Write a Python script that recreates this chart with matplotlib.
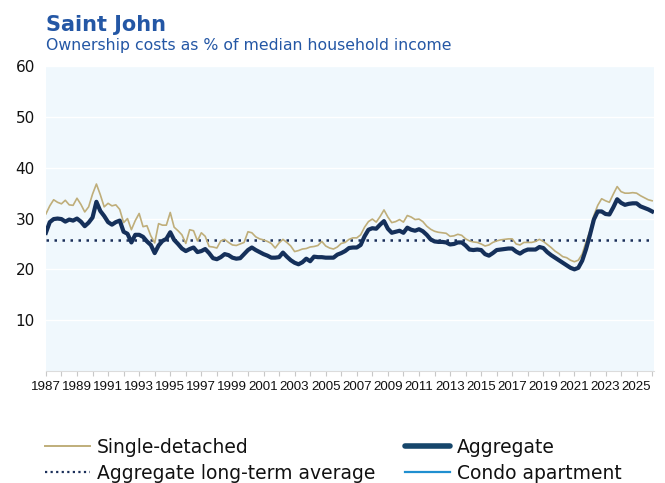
import matplotlib
matplotlib.use("Agg")
import matplotlib.pyplot as plt
from matplotlib.lines import Line2D
import numpy as np

# ---------------- data (quarterly, 1987Q1 .. 2026Q1) ----------------
start_year = 1987
aggregate = [
    27.2, 29.3, 29.9, 30.0,   # 1987
    29.9, 29.4, 29.8, 29.6,   # 1988
    30.0, 29.4, 28.5, 29.2,   # 1989
    30.2, 33.3, 31.5, 30.5,   # 1990
    29.3, 28.8, 29.3, 29.6,   # 1991
    27.4, 27.0, 25.3, 26.8,   # 1992
    26.8, 26.4, 25.5, 24.8,   # 1993
    23.2, 24.7, 25.6, 26.0,   # 1994
    27.3, 25.8, 25.0, 24.1,   # 1995
    23.6, 24.0, 24.3, 23.4,   # 1996
    23.6, 24.0, 23.2, 22.2,   # 1997
    22.0, 22.4, 23.0, 22.8,   # 1998
    22.3, 22.1, 22.2, 23.0,   # 1999
    23.8, 24.3, 23.8, 23.4,   # 2000
    23.0, 22.7, 22.3, 22.3,   # 2001
    22.4, 23.3, 22.5, 21.8,   # 2002
    21.3, 21.0, 21.4, 22.1,   # 2003
    21.6, 22.5, 22.4, 22.4,   # 2004
    22.3, 22.3, 22.3, 22.9,   # 2005
    23.2, 23.6, 24.2, 24.3,   # 2006
    24.3, 24.8, 26.5, 27.8,   # 2007
    28.1, 28.0, 28.8, 29.5,   # 2008
    28.0, 27.2, 27.4, 27.6,   # 2009
    27.2, 28.2, 27.8, 27.6,   # 2010
    27.9, 27.5, 26.8, 25.9,   # 2011
    25.5, 25.4, 25.4, 25.3,   # 2012
    24.9, 25.0, 25.3, 25.3,   # 2013
    24.7, 23.9, 23.8, 23.9,   # 2014
    23.8, 23.0, 22.7, 23.2,   # 2015
    23.8, 23.9, 24.0, 24.1,   # 2016
    24.1, 23.5, 23.1, 23.6,   # 2017
    23.9, 23.9, 23.9, 24.4,   # 2018
    24.2, 23.4, 22.8, 22.3,   # 2019
    21.8, 21.3, 20.8, 20.3,   # 2020
    20.0, 20.3, 21.7, 24.0,   # 2021
    26.8, 29.8, 31.4, 31.4,   # 2022
    30.9, 30.8, 32.2, 33.8,   # 2023
    33.1, 32.7, 32.9, 33.0,   # 2024
    33.0, 32.4, 32.1, 31.8,   # 2025
    31.4,                     # 2026
]
single_detached = [
    30.9, 32.5, 33.7, 33.2,   # 1987
    32.9, 33.6, 32.7, 32.6,   # 1988
    34.0, 32.8, 31.3, 32.3,   # 1989
    34.8, 36.8, 34.7, 32.3,   # 1990
    33.0, 32.5, 32.7, 31.8,   # 1991
    29.2, 30.0, 27.8, 29.6,   # 1992
    31.0, 28.4, 28.6, 26.6,   # 1993
    25.2, 29.0, 28.7, 28.7,   # 1994
    31.2, 28.3, 27.6, 26.8,   # 1995
    25.1, 27.8, 27.6, 25.6,   # 1996
    27.2, 26.5, 24.5, 24.4,   # 1997
    24.2, 25.6, 25.9, 25.3,   # 1998
    24.8, 24.7, 25.0, 25.3,   # 1999
    27.4, 27.2, 26.4, 26.0,   # 2000
    25.8, 25.5, 25.1, 24.2,   # 2001
    25.2, 25.9, 25.3, 24.6,   # 2002
    23.5, 23.7, 24.0, 24.1,   # 2003
    24.4, 24.5, 24.7, 25.5,   # 2004
    24.6, 24.2, 24.0, 24.4,   # 2005
    25.1, 25.3, 25.9, 26.2,   # 2006
    26.2, 26.8, 28.3, 29.4,   # 2007
    29.9, 29.3, 30.4, 31.7,   # 2008
    30.3, 29.2, 29.4, 29.8,   # 2009
    29.3, 30.6, 30.3, 29.8,   # 2010
    29.9, 29.4, 28.5, 27.9,   # 2011
    27.5, 27.3, 27.2, 27.1,   # 2012
    26.5, 26.6, 26.9, 26.7,   # 2013
    26.0, 25.6, 25.4, 25.3,   # 2014
    25.0, 24.6, 24.8, 25.3,   # 2015
    25.6, 25.8, 25.9, 26.0,   # 2016
    26.0, 25.0, 24.8, 25.3,   # 2017
    25.3, 25.3, 25.5, 25.9,   # 2018
    25.5, 24.9, 24.3, 23.6,   # 2019
    23.1, 22.5, 22.3, 21.8,   # 2020
    21.5, 21.8, 23.0, 25.4,   # 2021
    27.6, 30.6, 32.6, 33.9,   # 2022
    33.5, 33.2, 34.8, 36.3,   # 2023
    35.3, 35.0, 35.0, 35.1,   # 2024
    35.0, 34.5, 34.1, 33.7,   # 2025
    33.5,                     # 2026
]
long_term_average = 25.7
condo_apartment = []   # listed in legend, no data shown

tick_years = list(range(1987, 2027))
label_years = list(range(1987, 2026, 2))
y_ticks = [10, 20, 30, 40, 50, 60]

title = "Saint John"
subtitle = "Ownership costs as % of median household income"

# ---------------- figure ----------------
fig = plt.figure(figsize=(6.65, 4.83), dpi=100)
ax = fig.add_axes([0.069, 0.232, 0.914, 0.631])
ax.set_facecolor("#f0f8fd")

x = start_year + np.arange(len(aggregate)) / 4.0
x_single = start_year + np.arange(len(single_detached)) / 4.0

ax.plot(x_single, single_detached, color="#bfae7a", lw=1.2, zorder=3,
        label="Single-detached")
ax.plot(x, aggregate, color="#15305a", lw=3.0, zorder=4,
        solid_joinstyle="round", label="Aggregate")
ax.axhline(long_term_average, color="#1b2f5a", lw=1.8, ls=(0, (1, 2.2)),
           zorder=2, label="Aggregate long-term average")
ax.plot(condo_apartment, condo_apartment, color="#1f8fd0", lw=1.5,
        label="Condo apartment")

ax.set_xlim(1987, 2026.1)
ax.set_ylim(0, 60)
ax.set_yticks(y_ticks)
ax.set_yticklabels([str(v) for v in y_ticks], fontsize=11, color="#111111")
ax.tick_params(axis="y", length=0, pad=8)
ax.yaxis.grid(True, color="#ffffff", lw=1.0)
ax.set_axisbelow(True)

ax.set_xticks(tick_years)
ax.set_xticklabels([str(y) if y in label_years else "" for y in tick_years],
                   fontsize=9.6, family="Liberation Sans", color="#111111")
ax.tick_params(axis="x", length=3.5, color="#c8c8c8", width=0.8, pad=4)

for s in ["top", "right", "left"]:
    ax.spines[s].set_visible(False)
ax.spines["bottom"].set_color("#dcdcdc")
ax.spines["bottom"].set_linewidth(0.8)

fig.text(0.069, 0.935, title, fontsize=15, fontweight="bold", color="#2457a5",
         ha="left", va="baseline")
fig.text(0.069, 0.897, subtitle, fontsize=11.3, color="#2457a5",
         ha="left", va="baseline")

# legend handles (Aggregate handle drawn thicker and lighter navy)
h_single = Line2D([], [], color="#bfae7a", lw=1.4)
h_avg = Line2D([], [], color="#1b2f5a", lw=1.6, ls=(0, (1, 1.5)))
h_agg = Line2D([], [], color="#16466b", lw=4.0, solid_capstyle="round")
h_condo = Line2D([], [], color="#1f8fd0", lw=1.6)

leg = fig.legend([h_single, h_avg, h_agg, h_condo],
                 ["Single-detached", "Aggregate long-term average",
                  "Aggregate", "Condo apartment"],
                 ncol=2, loc="upper left", bbox_to_anchor=(0.068, 0.094),
                 frameon=False, fontsize=13.5, handlelength=2.4, handletextpad=0.35,
                 columnspacing=1.6, labelspacing=0.38, borderaxespad=0,
                 borderpad=0)
for t in leg.get_texts():
    t.set_color("#111111")

fig.savefig("out.png", dpi=100)
